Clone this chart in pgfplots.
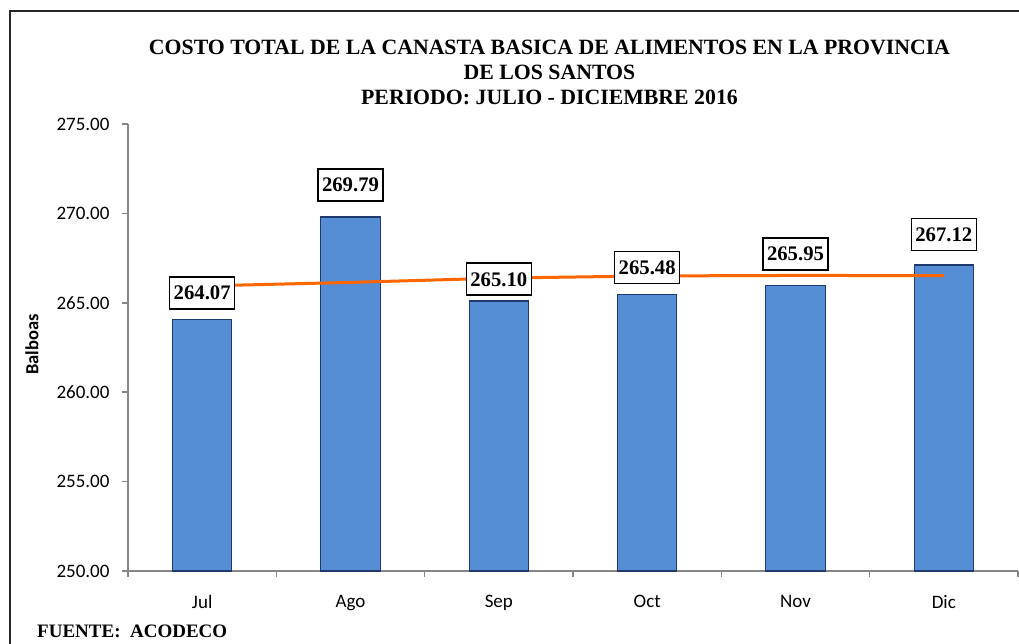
\documentclass[border=0pt]{standalone}
\usepackage{pgfplots}
\pgfplotsset{compat=1.18}
\usepackage{fontspec}
\setmainfont{Liberation Serif}
\newfontfamily\calibri{Carlito}
\definecolor{barblue}{HTML}{558ED5}
\definecolor{baredge}{HTML}{1F3A6E}
\definecolor{trend}{HTML}{FF6600}
\definecolor{axgray}{HTML}{868686}
\pgfplotstableread{
x y v
0 265.55 264.07
1 271.59 269.79
2 266.33 265.10
3 266.97 265.48
4 267.73 265.95
5 268.82 267.12
}\labels
\begin{document}
\begin{tikzpicture}
\useasboundingbox (0pt,0pt) rectangle (1019pt,644pt);
\draw[line width=2pt, color=black!85] (10pt,-5pt) -- (10pt,632.5pt) -- (1030pt,632.5pt);
\begin{axis}[
  at={(128pt,73pt)}, anchor=south west, scale only axis,
  width=890pt, height=447pt,
  xmin=-0.5, xmax=5.5, ymin=250, ymax=275,
  ytick={250,255,260,265,270,275},
  xtick={-0.5,0.5,1.5,2.5,3.5,4.5,5.5},
  x tick label as interval,
  xticklabels={Jul,Ago,Sep,Oct,Nov,Dic},
  axis lines*=left,
  axis line style={axgray, line width=1.5pt},
  tick style={axgray, line width=1.5pt},
  tick align=outside,
  major tick length=6pt,
  /pgf/number format/assume math mode=true,
  scaled y ticks=false,
  yticklabel style={font=\calibri\fontsize{19}{19}\selectfont, xshift=-9pt,
    /pgf/number format/fixed, /pgf/number format/fixed zerofill, /pgf/number format/precision=2},
  xticklabel style={font=\calibri\fontsize{19}{19}\selectfont, yshift=-15pt},
  clip=false,
]
\addplot[ybar, bar width=0.4, fill=barblue, draw=baredge, line width=1.3pt]
  coordinates {(0,264.07) (1,269.79) (2,265.10) (3,265.48) (4,265.95) (5,267.12)};
\addplot[draw=none, mark=none, point meta=explicit,
  nodes near coords,
  nodes near coords align={center},
  nodes near coords style={anchor=center, draw=black, fill=white, line width=1.2pt,
    font=\bfseries\fontsize{20.7}{20.7}\selectfont, text height=14pt, text depth=0pt,
    inner xsep=4pt, inner ysep=9pt,
    /pgf/number format/fixed, /pgf/number format/fixed zerofill, /pgf/number format/precision=2}]
  table[x=x, y=y, meta=v] {\labels};
\addplot[trend, line width=3pt]
  coordinates {(0,265.94) (1,266.14) (2,266.38) (3,266.50) (4,266.53) (5,266.52)};
\end{axis}
\node[rotate=90, font=\calibri\bfseries\fontsize{18.5}{18.5}\selectfont] at (32pt,299.5pt) {Balboas};
\node[anchor=base, font=\bfseries\fontsize{21.8}{21.8}\selectfont] at (549.5pt,589pt) {COSTO TOTAL DE LA CANASTA BASICA DE ALIMENTOS EN LA PROVINCIA};
\node[anchor=base, font=\bfseries\fontsize{21.8}{21.8}\selectfont] at (549.5pt,564pt) {DE LOS SANTOS};
\node[anchor=base, font=\bfseries\fontsize{21.8}{21.8}\selectfont] at (549.5pt,539pt) {PERIODO: JULIO - DICIEMBRE 2016};
\node[anchor=base west, inner sep=0pt, font=\bfseries\fontsize{19}{19}\selectfont] at (37pt,6pt) {FUENTE:\ \ ACODECO};
\end{tikzpicture}
\end{document}
